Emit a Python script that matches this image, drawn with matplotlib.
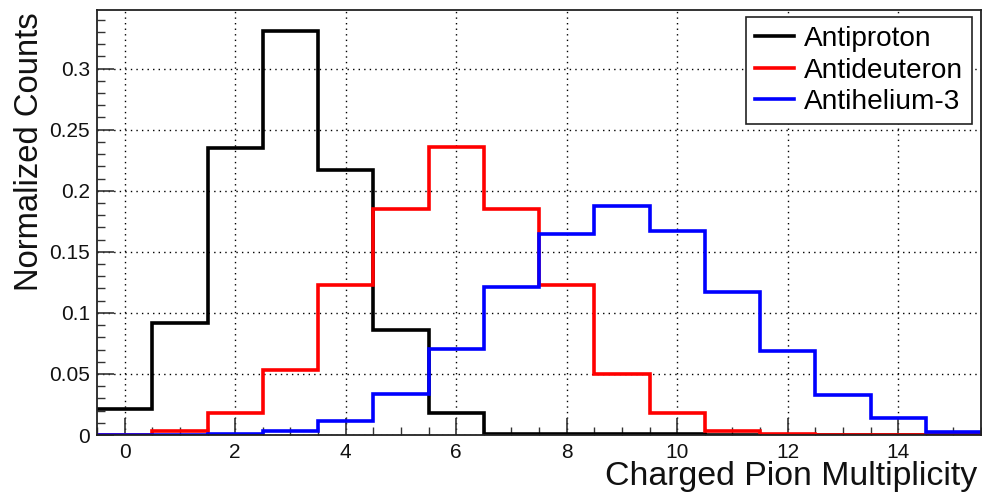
import numpy as np
import matplotlib.pyplot as plt
from matplotlib.ticker import MultipleLocator

plt.rcParams['font.family'] = ['Liberation Sans', 'DejaVu Sans']

# pion multiplicity bins 0..15, unit width
multiplicity = np.arange(0, 16)
antiproton = [0.0213, 0.092, 0.235, 0.331, 0.2167, 0.086, 0.0178, 0.0012,
              0.0008, 0.0006, 0.0005, 0.0004, 0.0, 0.0, 0.0, 0.0]
antideuteron = [0.0, 0.0033, 0.0183, 0.0533, 0.123, 0.185, 0.2358, 0.185,
                0.123, 0.0497, 0.0178, 0.0035, 0.0005, 0.0004, 0.0003, 0.0003]
antihelium3 = [0.0003, 0.0004, 0.0005, 0.003, 0.0118, 0.0336, 0.0705, 0.1216,
               0.1645, 0.1877, 0.167, 0.1175, 0.0689, 0.0328, 0.0137, 0.0027]

edges = np.append(multiplicity - 0.5, multiplicity[-1] + 0.5)

fig = plt.figure(figsize=(9.82, 4.93), dpi=100)
ax = fig.add_axes([0.0988, 0.1176, 0.9002, 0.8621])

ax.stairs(antiproton, edges, baseline=None, color='black', lw=2.6, label='Antiproton')
ax.stairs(antideuteron, edges, baseline=None, color='#ff0000', lw=2.6, label='Antideuteron')
ax.stairs(antihelium3, edges, baseline=None, color='#0000ff', lw=2.6, label='Antihelium-3')

ax.set_xlim(-0.5, 15.5)
ax.set_ylim(0, 0.348)
ax.xaxis.set_major_locator(MultipleLocator(2))
ax.xaxis.set_minor_locator(MultipleLocator(0.5))
ax.yaxis.set_major_locator(MultipleLocator(0.05))
ax.yaxis.set_minor_locator(MultipleLocator(0.01))
ax.set_yticks([0, 0.05, 0.1, 0.15, 0.2, 0.25, 0.3])
ax.set_yticklabels(['0', '0.05', '0.1', '0.15', '0.2', '0.25', '0.3'])

ax.tick_params(which='major', direction='in', length=12, width=1.2, labelsize=15,
               top=False, right=False, colors='#333333', labelcolor='#111111')
ax.tick_params(which='minor', direction='in', length=6, width=1.0,
               top=False, right=False, colors='#333333')
ax.tick_params(axis='x', pad=6)
ax.tick_params(axis='y', pad=5)

ax.grid(True, which='major', color='black', linestyle=(0, (1, 3)), lw=1.0)
ax.set_axisbelow(True)
for s in ax.spines.values():
    s.set_linewidth(1.3)
    s.set_color('#222222')

# axis titles placed ROOT-style at the far ends of the axes
fig.text(14 / 982, 1 - 12 / 493, 'Normalized Counts', rotation=90, fontsize=23.6,
         ha='left', va='top', color='#111111')
fig.text(977 / 982, 1 - 485 / 493, 'Charged Pion Multiplicity', fontsize=24.4,
         ha='right', va='baseline', color='#111111')

leg = ax.legend(loc='upper right', bbox_to_anchor=(0.990, 0.9835), fontsize=20.2,
                fancybox=False, framealpha=1, edgecolor='#222222',
                handlelength=1.4, handletextpad=0.36, borderpad=0.32,
                labelspacing=0.2, borderaxespad=0)
leg.get_frame().set_linewidth(1.2)

fig.savefig('out.png', dpi=100)
